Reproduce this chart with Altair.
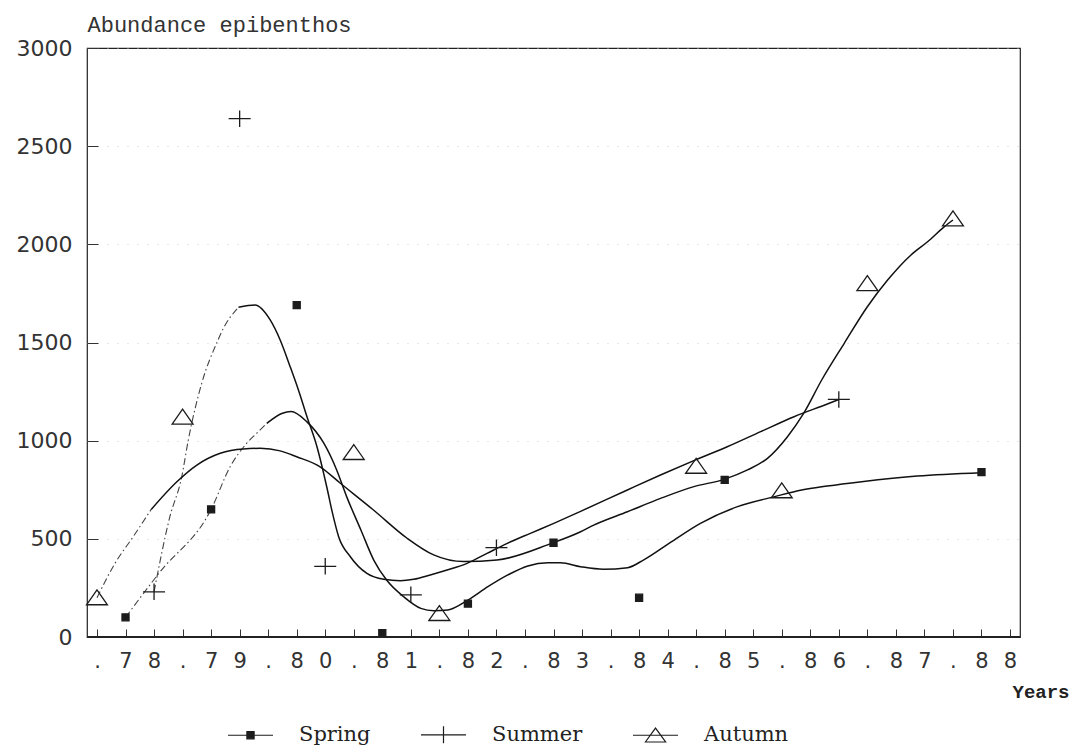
import altair as alt
import pandas as pd

# ---------------- data ----------------
seasons = ["Spring", "Summer", "Autumn"]
years = ["78", "79", "80", "81", "82", "83", "84", "85", "86", "87", "88"]
y_ticks = [0, 500, 1000, 1500, 2000, 2500, 3000]

# observations (x = season slot on the time axis, 3 slots per year)
spring_k = [1, 4, 7, 10, 13, 16, 19, 22, 31]
spring_v = [100, 650, 1690, 20, 170, 480, 200, 800, 840]
summer_k = [2, 5, 8, 11, 14, 26]
summer_v = [230, 2640, 360, 215, 455, 1210]
autumn_k = [0, 3, 9, 12, 21, 24, 27, 30]
autumn_v = [200, 1120, 940, 120, 870, 745, 1800, 2130]

# smoothed curves - dash-dot lead-in and solid part
spring_dash_k = [1, 2.2, 4, 4.67, 5.25, 5.6, 5.95]
spring_dash_v = [100, 330, 650, 868, 987, 1038, 1088]
spring_solid_k = [5.95, 6.5, 6.8, 7.35, 7.95, 8.4, 8.75, 9.25, 9.7, 10.15, 10.75, 11.35, 11.8,
                  12.3, 13, 13.7, 14.4, 15.1, 15.8, 16.25, 16.95, 17.75, 18.6, 19.15, 20.1,
                  21.15, 22.45, 23.75, 24.7, 25.6, 26.8, 28.75, 31]
spring_solid_v = [1088, 1140, 1148, 1097, 987, 851, 715, 545, 392, 290, 205, 146, 134,
                  138, 188, 256, 316, 362, 378, 378, 358, 345, 353, 392, 482,
                  579, 664, 715, 749, 769, 791, 820, 837]

summer_dash_k = [2, 2.55, 2.97, 3.2, 3.67, 4.2, 4.43, 4.96]
summer_dash_v = [230, 610, 816, 1003, 1292, 1499, 1572, 1679]
summer_solid_k = [4.96, 5.54, 6.07, 6.42, 6.77, 7.06, 7.36, 7.71, 8.06, 8.24, 8.47, 8.88, 9.46,
                  10.05, 10.63, 11.1, 11.68, 12.27, 12.97, 13.67, 14.38, 15.19, 16.01, 16.95,
                  18.59, 19.75, 20.98, 22.09, 23.26, 24.43, 25.6, 26]
summer_solid_v = [1679, 1691, 1615, 1513, 1377, 1258, 1122, 969, 760, 640, 511, 409, 324,
                  294, 287, 294, 316, 341, 375, 426, 477, 528, 579, 640,
                  749, 825, 902, 969, 1046, 1122, 1187, 1210]

autumn_dash_k = [0, 0.63, 1.27, 1.9]
autumn_dash_v = [200, 375, 511, 650]
autumn_solid_k = [1.9, 2.8, 3.5, 4.32, 5.13, 5.72, 6.42, 7, 7.82, 8.53, 9.69, 10.87, 11.8,
                  12.85, 14.02, 15.93, 16.95, 17.41, 18.59, 19.75, 20.92, 21.98, 22.8, 23.5,
                  24.2, 24.75, 25.4, 26.19, 27, 27.71, 28.53, 29.11, 29.7, 30]
autumn_solid_v = [650, 791, 876, 936, 958, 961, 948, 918, 867, 783, 647, 503, 418,
                  384, 392, 477, 536, 570, 638, 706, 766, 803, 851, 910,
                  1020, 1135, 1309, 1496, 1682, 1818, 1946, 2013, 2090, 2124]

# tick labels: one character per season slot (". 7 8 . 7 9 ...")
x_tick_labels = []
for yy in years:
    x_tick_labels += [".", yy[0], yy[1]]
x_tick_values = list(range(len(x_tick_labels)))

# ---------------- tables ----------------
pts = pd.DataFrame(
    [("Spring", k, v) for k, v in zip(spring_k, spring_v)]
    + [("Summer", k, v) for k, v in zip(summer_k, summer_v)]
    + [("Autumn", k, v) for k, v in zip(autumn_k, autumn_v)],
    columns=["season", "k", "v"],
)

rows = []
for s, part, ks, vs in [
    ("Spring", "dash", spring_dash_k, spring_dash_v),
    ("Spring", "solid", spring_solid_k, spring_solid_v),
    ("Summer", "dash", summer_dash_k, summer_dash_v),
    ("Summer", "solid", summer_solid_k, summer_solid_v),
    ("Autumn", "dash", autumn_dash_k, autumn_dash_v),
    ("Autumn", "solid", autumn_solid_k, autumn_solid_v),
]:
    for i, (k, v) in enumerate(zip(ks, vs)):
        rows.append((s, part, i, k, v))
curves = pd.DataFrame(rows, columns=["season", "part", "i", "k", "v"])

# ---------------- styles ----------------
INK = "#1c1c1c"
marker_paths = [
    "M-0.32,-0.32H0.32V0.32H-0.32Z",          # spring: small filled square
    "M-1,0H1M0,-0.75V0.75",                   # summer: thin plus
    "M-0.95,0.64L0,-0.72L0.95,0.64Z",         # autumn: open triangle
]
legend_paths = [
    "M-1,0H1M-0.16,-0.16H0.16V0.16H-0.16Z",
    "M-1,0H1M0,-0.38V0.38",
    "M-1,0H1M-0.45,0.3L0,-0.32L0.45,0.3Z",
]
fills = [INK, "transparent", "transparent"]
strokes = [INK, INK, INK]

x_enc = alt.X(
    "k:Q",
    scale=alt.Scale(domain=[-0.35, 32.35], nice=False, zero=False),
    axis=alt.Axis(
        values=x_tick_values,
        labelExpr="%s[datum.value]" % str(x_tick_labels).replace("'", '"'),
        tickSize=8, offset=-8, domain=False, grid=False,
        labelPadding=13, labelAngle=0, labelOverlap=False, labelFlush=False, labelBound=False,
        labelFont="DejaVu Sans", labelFontSize=21, labelColor="#333", tickColor="#333",
        title="Years", titleX=982, titleY=68, titleAlign="right", titleBaseline="alphabetic",
        titleFont="Liberation Mono", titleFontWeight="bold", titleFontSize=19, titleColor="#222",
    ),
)
y_enc = alt.Y(
    "v:Q",
    scale=alt.Scale(domain=[0, 3000], nice=False),
    axis=alt.Axis(
        values=y_ticks, format="d", tickSize=11, offset=-11, domain=False,
        labelPadding=15, labelFont="DejaVu Sans", labelFontSize=22, labelColor="#333",
        tickColor="#333", grid=True, gridColor="#c4c4c4", gridDash=[1, 9], gridOpacity=0.8,
        title="Abundance epibenthos", titleAngle=0, titleX=-11, titleY=-17,
        titleAlign="left", titleBaseline="alphabetic",
        titleFont="Liberation Mono", titleFontSize=22, titleFontWeight="normal", titleColor="#333",
    ),
)

baseline = alt.Chart(pts).mark_rule(strokeWidth=2, color="#222").encode(y=alt.datum(0))

dash = (
    alt.Chart(curves)
    .transform_filter(alt.datum.part == "dash")
    .mark_line(strokeDash=[7, 3, 1.5, 3], strokeWidth=1.1, color="#444", interpolate="monotone")
    .encode(x=x_enc, y=y_enc, detail="season:N", order="i:Q")
)
solid = (
    alt.Chart(curves)
    .transform_filter(alt.datum.part == "solid")
    .mark_line(strokeWidth=1.5, color="#111", interpolate="monotone")
    .encode(x=x_enc, y=y_enc, detail="season:N", order="i:Q")
)
points = (
    alt.Chart(pts)
    .mark_point(filled=False, size=484, strokeWidth=1.3, color=INK, opacity=1)
    .encode(
        x=x_enc, y=y_enc,
        shape=alt.Shape("season:N", scale=alt.Scale(domain=seasons, range=marker_paths), legend=None),
        fill=alt.Fill("season:N", scale=alt.Scale(domain=seasons, range=fills), legend=None),
    )
)
leg = alt.Legend(
    title=None, orient="none", legendX=140, legendY=663, direction="horizontal",
    symbolSize=2025, symbolStrokeWidth=1.2,
    labelOffset=25, columnPadding=47,
    labelFont="DejaVu Serif", labelFontSize=21, labelColor="#222",
)
legend_layer = (
    alt.Chart(pts)
    .transform_filter("false")
    .mark_point(filled=False, size=2025, strokeWidth=1.2, color=INK, opacity=1)
    .encode(
        x=x_enc, y=y_enc,
        shape=alt.Shape("season:N", scale=alt.Scale(domain=seasons, range=legend_paths), legend=leg),
        fill=alt.Fill("season:N", scale=alt.Scale(domain=seasons, range=fills), legend=leg),
        stroke=alt.Stroke("season:N", scale=alt.Scale(domain=seasons, range=strokes), legend=leg),
    )
)

chart = (
    alt.layer(dash, solid, points, baseline, legend_layer)
    .resolve_scale(shape="independent", fill="independent", stroke="independent")
    .properties(
        width=933, height=589,
        background="white",
        autosize=alt.AutoSizeParams(type="none"),
        padding={"left": 79, "top": 40, "right": 52, "bottom": 109},
    )
    .configure_view(stroke="#222", strokeWidth=1.2)
)

chart.save("out.html", embed_options={"renderer": "svg", "actions": False})
